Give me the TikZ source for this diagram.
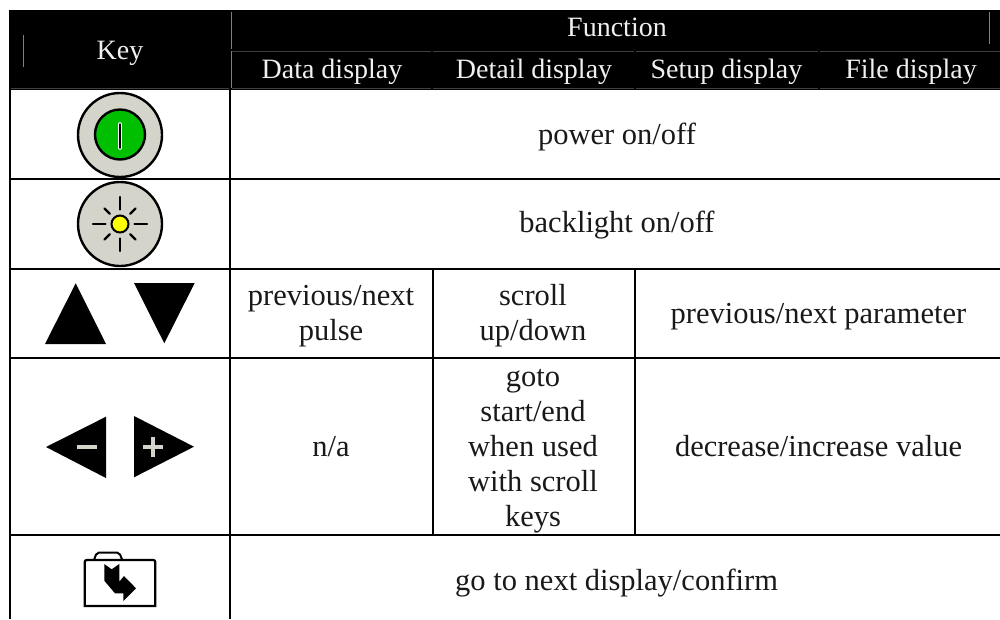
\documentclass[tikz,border=0pt]{standalone}
\usepackage{fontspec}
\setmainfont{Liberation Serif}
\definecolor{keygrey}{HTML}{D4D4CA}
\definecolor{keygreen}{HTML}{00BE00}
\definecolor{keyyellow}{HTML}{FFFF00}
\definecolor{headtext}{HTML}{F0F0F0}
\tikzset{
  x=1pt,y=-1pt,
  rule/.style={line width=1.7pt,black},
  faint/.style={line width=0.7pt,draw=black!75!white},
  midrule/.style={line width=0.9pt,draw=black!50!white},
  bodytext/.style={inner sep=0pt,anchor=base,align=center,text=black!90!white,font=\fontsize{30.5}{35}\selectfont},
  headlabel/.style={inner sep=0pt,anchor=base,text=headtext,font=\fontsize{28}{32}\selectfont},
  icon/.style={line width=2.4pt,draw=black},
  ray/.style={line width=2.2pt,draw=black,line cap=round},
  solidtri/.style={fill=black,draw=none},
  mark sign/.style={line width=4pt,draw=keygrey}
}
\begin{document}
\begin{tikzpicture}
\useasboundingbox (0,0) rectangle (1000,619);
\fill[white] (0,0) rectangle (1000,619);
% header band
\fill[black] (10,10) rectangle (1000,90);
\foreach \a/\b in {232/431,433/634,636/818,820/1000}{
  \draw[faint] (\a,51) -- (\b,51);
  \draw[faint] (\a,88.5) -- (\b,88.5);
}
\draw[faint] (11,88.5) -- (229,88.5);
\draw[midrule] (231,12) -- (231,49);
\draw[midrule] (231,51) -- (231,88);
\draw[midrule] (23.3,35) -- (23.3,67);
\draw[midrule] (989.3,12) -- (989.3,44);
% body rules
\draw[rule] (10,10) -- (10,619);
\draw[rule] (230,90) -- (230,619);
\draw[rule] (432.7,269) -- (432.7,535);
\draw[rule] (635,269) -- (635,535);
\foreach \y in {179,269,358,535}{\draw[rule] (10,\y) -- (1000,\y);}
% header text
\node[headlabel] (hkey) at (120,59.5) {Key};
\node[headlabel] (hfun) at (617,36) {Function};
\node[headlabel] (hdata) at (332,78.3) {Data display};
\node[headlabel] (hdetail) at (534,78.3) {Detail display};
\node[headlabel] (hsetup) at (726.5,78.3) {Setup display};
\node[headlabel] (hfile) at (911,78.3) {File display};
% body text
\node[bodytext] (power) at (617,144) {power on/off};
\node[bodytext] (back) at (617,232.5) {backlight on/off};
\node[bodytext] (prev) at (331,340) {previous/next\\pulse};
\node[bodytext] (scroll) at (533,340) {scroll\\up/down};
\node[bodytext] (param) at (818.5,323) {previous/next parameter};
\node[bodytext] (na) at (331,456.5) {n/a};
\node[bodytext] (goto) at (533,526) {goto\\start/end\\when used\\with scroll\\keys};
\node[bodytext] (value) at (818.5,456.5) {decrease/increase value};
\node[bodytext] (next) at (616.6,590) {go to next display/confirm};
% power key
\draw[icon,fill=keygrey] (120,135) circle (42);
\draw[icon,fill=keygreen] (120,134.5) circle (25);
\draw[white,line width=3.6pt,line cap=round] (120,124) -- (120,148);
\draw[black,line width=1.5pt,line cap=round] (120,124) -- (120,148);
% backlight key
\draw[icon,fill=keygrey] (120,224) circle (42);
\draw[line width=2pt,draw=black,fill=keyyellow] (120,224) circle (8.5);
\foreach \a in {0,90,180,270}{\draw[ray] (120,224) ++(\a:14.5) -- ++(\a:12.5);}
\foreach \a in {45,135,225,315}{\draw[ray] (120,224) ++(\a:14.5) -- ++(\a:7.5);}
% up / down
\fill[solidtri] (75.7,283.3) -- (106,344) -- (45,344) -- cycle;
\fill[solidtri] (134,283) -- (194.7,283) -- (164.3,343.3) -- cycle;
% minus / plus
\fill[solidtri] (46,447) -- (106,416.7) -- (106,478) -- cycle;
\fill[solidtri] (134,416) -- (194,446.7) -- (134,477.3) -- cycle;
\draw[mark sign] (76.7,447) -- (96.7,447);
\draw[mark sign] (143.3,447) -- (163.3,447);
\draw[mark sign] (153.3,436.7) -- (153.3,456.7);
% folder key
\draw[icon,line width=2pt,rounded corners=2pt] (94,560) -- (96.7,552.7) -- (119.3,552.7) -- (122.3,560);
\draw[icon,line width=2.2pt,line join=miter] (84.7,606) -- (84.7,562) [rounded corners=2pt] -- (84.7,560) -- (155.3,560) [sharp corners] -- (155.3,606) -- cycle;
\fill[black] (104.3,564) -- (111.7,569.3) -- (119.3,564) -- (119.3,581.7) -- (124,576) -- (136,588.3) -- (123.3,601) -- (123.3,593.3) -- (115,593.3) -- (104.3,580.7) -- cycle;
\end{tikzpicture}
\end{document}
